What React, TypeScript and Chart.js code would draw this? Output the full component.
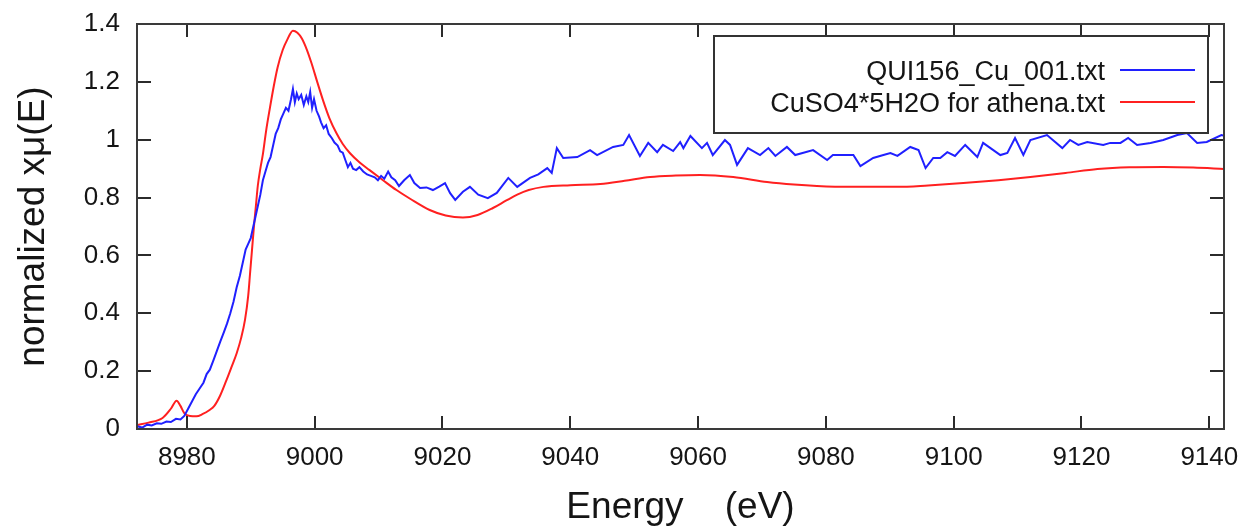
import React, { useEffect, useRef } from 'react';
import { Chart, registerables } from 'chart.js';

Chart.register(...registerables);

// ---------- data ----------
const seriesLabels = ['QUI156_Cu_001.txt', 'CuSO4*5H2O for athena.txt'];
const seriesColors = ['#2020ff', '#ff2020'];

const blueEnergy = [
  8972.2, 8973.0, 8973.8, 8974.5, 8975.3, 8976.0, 8976.8, 8977.5, 8978.3, 8979.0,
  8979.6, 8980.2, 8980.8, 8981.4, 8982.0, 8982.6, 8983.1, 8983.6, 8984.2, 8984.7,
  8985.2, 8985.8, 8986.3, 8986.8, 8987.3, 8987.8, 8988.3, 8988.8, 8989.2, 8989.6,
  8990.0, 8990.4, 8990.8, 8991.1, 8991.5, 8991.9, 8992.3, 8992.7, 8993.1, 8993.5,
  8993.9, 8994.3, 8994.7, 8995.1, 8995.5, 8995.9, 8996.3, 8996.6, 8996.9, 8997.2,
  8997.5, 8997.9, 8998.3, 8998.7, 8999.0, 8999.3, 8999.6, 8999.9, 9000.3, 9000.7,
  9001.0, 9001.4, 9001.8, 9002.2, 9002.7, 9003.1, 9003.6, 9004.0, 9004.4, 9004.8,
  9005.2, 9005.6, 9006.0, 9006.5, 9007.0, 9007.6, 9008.2, 9008.8, 9009.4, 9009.9,
  9010.4, 9010.9, 9011.5, 9012.0, 9012.6, 9013.2,
  9014.0, 9014.9, 9015.6, 9016.5, 9017.5, 9018.5, 9019.5, 9020.4, 9021.2, 9022.0,
  9023.2, 9024.3, 9025.6, 9027.1, 9028.5, 9030.3, 9031.7, 9033.7, 9035.0, 9036.4,
  9037.1, 9037.9, 9038.9, 9041.1, 9043.1, 9044.2, 9046.7, 9048.3, 9049.2, 9050.9,
  9052.2, 9053.6, 9054.5, 9056.1, 9057.2, 9057.7, 9058.8, 9060.6, 9061.4, 9062.3,
  9064.2, 9065.0, 9066.1, 9067.8, 9069.7, 9071.0, 9072.1, 9073.9, 9075.2, 9078.0,
  9080.2, 9081.1, 9082.7, 9084.3, 9085.4, 9087.4, 9089.0, 9090.1, 9091.2, 9093.2,
  9094.5, 9095.6, 9096.8, 9097.9, 9099.0, 9100.2, 9101.8, 9103.7, 9104.6, 9107.3,
  9108.4, 9109.6, 9110.9, 9112.0, 9114.6, 9117.0, 9118.2, 9119.5, 9120.9, 9123.4,
  9124.5, 9126.1, 9127.3, 9128.7, 9130.8, 9132.8, 9135.0, 9136.5, 9138.1, 9139.6,
  9141.9, 9143.0,
];
const blueMu = [
  0.010, 0.005, 0.015, 0.012, 0.020, 0.018, 0.026, 0.024, 0.035, 0.033,
  0.045, 0.070, 0.095, 0.120, 0.140, 0.160, 0.190, 0.205, 0.240, 0.270,
  0.300, 0.335, 0.365, 0.400, 0.440, 0.490, 0.530, 0.580, 0.620, 0.640,
  0.660, 0.700, 0.740, 0.770, 0.810, 0.860, 0.890, 0.920, 0.940, 0.980,
  1.020, 1.040, 1.070, 1.090, 1.110, 1.100, 1.140, 1.175, 1.130, 1.160,
  1.140, 1.155, 1.120, 1.150, 1.130, 1.165, 1.110, 1.140, 1.100, 1.080,
  1.060, 1.040, 1.050, 1.020, 1.005, 0.990, 0.980, 0.960, 0.955, 0.930,
  0.905, 0.920, 0.900, 0.895, 0.905, 0.890, 0.880, 0.875, 0.870, 0.860,
  0.875, 0.865, 0.890, 0.870, 0.860, 0.840,
  0.860, 0.878, 0.850, 0.833, 0.835, 0.826, 0.838, 0.850, 0.815, 0.792,
  0.820, 0.837, 0.810, 0.798, 0.816, 0.868, 0.837, 0.868, 0.880, 0.902,
  0.885, 0.971, 0.937, 0.940, 0.964, 0.947, 0.975, 0.982, 1.016, 0.944,
  0.989, 0.957, 0.982, 0.961, 0.992, 0.971, 1.013, 0.971, 0.989, 0.947,
  0.999, 0.982, 0.913, 0.971, 0.947, 0.971, 0.944, 0.975, 0.947, 0.964,
  0.930, 0.947, 0.947, 0.947, 0.909, 0.937, 0.947, 0.954, 0.944, 0.975,
  0.964, 0.902, 0.937, 0.937, 0.957, 0.944, 0.982, 0.940, 0.989, 0.947,
  0.954, 1.006, 0.947, 0.999, 1.016, 0.971, 0.999, 0.982, 0.992, 0.982,
  0.989, 0.989, 1.006, 0.982, 0.989, 0.999, 1.016, 1.023, 0.989, 0.992,
  1.016, 1.010,
];

const redEnergy = [
  8972.2, 8974.0, 8976.2, 8977.5, 8978.4, 8979.0, 8979.6, 8980.5, 8981.5, 8982.5,
  8983.5, 8984.3, 8985.2, 8986.2, 8987.0, 8987.8, 8988.5, 8989.1, 8989.6, 8989.9,
  8990.2, 8990.5, 8990.8, 8991.1, 8991.5, 8991.9, 8992.4, 8993.0, 8993.6, 8994.2,
  8995.0, 8995.7, 8996.6, 8997.3, 8998.0, 8998.8, 8999.5, 9000.4, 9001.3, 9002.3,
  9003.4, 9004.4, 9005.5, 9007.0, 9008.6, 9010.7, 9012.8, 9015.0, 9018.0, 9020.5,
  9023.2, 9025.5, 9027.9, 9030.0, 9031.7, 9033.5, 9035.8, 9040.0, 9044.7, 9048.5,
  9052.5, 9056.5, 9060.3, 9065.5, 9070.8, 9075.0, 9078.6, 9083.8, 9091.2, 9096.0,
  9101.5, 9107.0, 9112.0, 9117.5, 9122.5, 9127.5, 9132.8, 9137.5, 9142.3,
];
const redMu = [
  0.014, 0.022, 0.038, 0.070, 0.098, 0.080, 0.055, 0.045, 0.044, 0.052,
  0.065, 0.080, 0.115, 0.169, 0.215, 0.262, 0.315, 0.377, 0.460, 0.540,
  0.620, 0.700, 0.770, 0.840, 0.900, 0.950, 1.030, 1.110, 1.185, 1.250,
  1.310, 1.345, 1.377, 1.370, 1.350, 1.310, 1.265, 1.200, 1.137, 1.075,
  1.023, 0.985, 0.954, 0.922, 0.895, 0.860, 0.826, 0.795, 0.757, 0.738,
  0.731, 0.740, 0.764, 0.790, 0.810, 0.826, 0.837, 0.843, 0.847, 0.858,
  0.871, 0.876, 0.878, 0.871, 0.854, 0.845, 0.840, 0.837, 0.837, 0.842,
  0.850, 0.860, 0.871, 0.885, 0.899, 0.905, 0.906, 0.904, 0.899,
];

const xMin = 8972.2;
const xMax = 9142.3;
const yMin = 0;
const yMax = 1.4;
const xTickValues = [8980, 9000, 9020, 9040, 9060, 9080, 9100, 9120, 9140];
const yTickValues = [0, 0.2, 0.4, 0.6, 0.8, 1, 1.2, 1.4];
const yTickLabels = ['0', '0.2', '0.4', '0.6', '0.8', '1', '1.2', '1.4'];
const xTitle = 'Energy    (eV)';
const yTitle = 'normalized x\u03bc(E)';

const FONT = '"Liberation Sans", Arial, sans-serif';
const TEXT = '#151515';

const framePlugin = {
  id: 'gnuFrame',
  afterDatasetsDraw(chart: any) {
    const { ctx, chartArea: a, scales } = chart;
    ctx.save();
    // inward tick marks on all four sides
    ctx.strokeStyle = '#2b2b2b';
    ctx.lineWidth = 2;
    ctx.beginPath();
    xTickValues.forEach((v) => {
      const px = Math.round(scales.x.getPixelForValue(v));
      ctx.moveTo(px, a.bottom);
      ctx.lineTo(px, a.bottom - 13);
      ctx.moveTo(px, a.top);
      ctx.lineTo(px, a.top + 13);
    });
    yTickValues.forEach((v) => {
      const py = Math.round(scales.y.getPixelForValue(v));
      ctx.moveTo(a.left, py);
      ctx.lineTo(a.left + 14, py);
      ctx.moveTo(a.right, py);
      ctx.lineTo(a.right - 14, py);
    });
    ctx.stroke();
    // frame
    ctx.strokeStyle = '#3a3a3a';
    ctx.strokeRect(a.left, a.top, a.right - a.left, a.bottom - a.top);

    // legend box
    const bx = 714, by = 36, bw = 494, bh = 97;
    ctx.fillStyle = '#ffffff';
    ctx.fillRect(bx, by, bw, bh);
    ctx.strokeStyle = '#333333';
    ctx.lineWidth = 2;
    ctx.strokeRect(bx, by, bw, bh);
    ctx.font = `27px ${FONT}`;
    ctx.textAlign = 'right';
    ctx.textBaseline = 'alphabetic';
    const baselines = [80, 112];
    seriesLabels.forEach((lab, i) => {
      ctx.fillStyle = TEXT;
      ctx.fillText(lab, 1105, baselines[i]);
      ctx.strokeStyle = seriesColors[i];
      ctx.lineWidth = 2;
      ctx.beginPath();
      ctx.moveTo(1120, baselines[i] - 10);
      ctx.lineTo(1195, baselines[i] - 10);
      ctx.stroke();
    });

    // axis titles
    ctx.fillStyle = TEXT;
    ctx.font = `37px ${FONT}`;
    ctx.textAlign = 'center';
    ctx.textBaseline = 'alphabetic';
    ctx.fillText(xTitle, (a.left + a.right) / 2, 518);
    ctx.save();
    ctx.translate(44, (a.top + a.bottom) / 2);
    ctx.rotate(-Math.PI / 2);
    ctx.fillText(yTitle, 0, 0);
    ctx.restore();

    ctx.restore();
  },
};

export default function App() {
  const ref = useRef<HTMLCanvasElement | null>(null);

  useEffect(() => {
    if (!ref.current) return;
    const blueData = blueEnergy.map((e, i) => ({ x: e, y: blueMu[i] }));
    const redData = redEnergy.map((e, i) => ({ x: e, y: redMu[i] }));
    const chart = new Chart(ref.current, {
      type: 'line',
      data: {
        datasets: [
          {
            label: seriesLabels[0],
            data: blueData,
            borderColor: seriesColors[0],
            borderWidth: 2,
            pointRadius: 0,
            tension: 0,
            fill: false,
          },
          {
            label: seriesLabels[1],
            data: redData,
            borderColor: seriesColors[1],
            borderWidth: 2,
            pointRadius: 0,
            cubicInterpolationMode: 'monotone',
            fill: false,
          },
        ],
      },
      options: {
        animation: false,
        responsive: false,
        devicePixelRatio: 1,
        parsing: false,
        layout: { padding: { left: 0, top: 24, right: 22, bottom: 0 } },
        plugins: {
          legend: { display: false },
          tooltip: { enabled: false },
          title: { display: false },
        },
        scales: {
          x: {
            type: 'linear',
            min: xMin,
            max: xMax,
            grid: { display: false, drawTicks: false },
            border: { display: false },
            afterBuildTicks: (s: any) => {
              s.ticks = xTickValues.map((v) => ({ value: v }));
            },
            afterFit: (s: any) => {
              s.height = 97;
              s.paddingLeft = 0;
              s.paddingRight = 0;
            },
            ticks: {
              padding: 13,
              color: TEXT,
              maxRotation: 0,
              autoSkip: false,
              font: { family: FONT, size: 26 },
              callback: (v: any) => String(v),
            },
          },
          y: {
            type: 'linear',
            min: yMin,
            max: yMax,
            grid: { display: false, drawTicks: false },
            border: { display: false },
            afterBuildTicks: (s: any) => {
              s.ticks = yTickValues.map((v) => ({ value: v }));
            },
            afterFit: (s: any) => {
              s.width = 137;
              s.paddingTop = 0;
              s.paddingBottom = 0;
            },
            ticks: {
              padding: 17,
              color: TEXT,
              autoSkip: false,
              font: { family: FONT, size: 26 },
              callback: (_v: any, i: number) => yTickLabels[i],
            },
          },
        },
      },
      plugins: [framePlugin],
    } as any);
    return () => chart.destroy();
  }, []);

  return (
    <div style={{ position: 'absolute', left: 0, top: 0, width: 1246, height: 526, background: '#fff' }}>
      <canvas ref={ref} width={1246} height={526} style={{ display: 'block' }} />
    </div>
  );
}
